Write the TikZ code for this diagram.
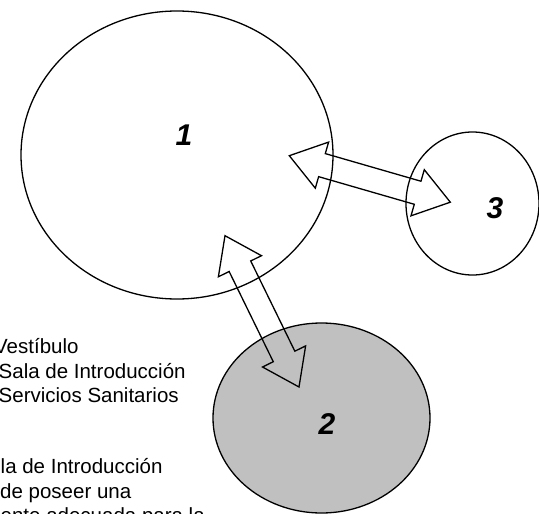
\documentclass[tikz,border=0pt]{standalone}
\usepackage{fontspec}
\setmainfont{Liberation Sans}
\usetikzlibrary{shapes.geometric,calc}
\definecolor{zonegray}{RGB}{192,192,192}
\tikzset{
  zone/.style={ellipse, draw=black, line width=1.3pt, inner sep=0pt, outer sep=0pt},
  zonelabel/.style={inner sep=0pt, font=\fontsize{30}{36}\selectfont\bfseries\itshape},
  bodytext/.style={inner sep=0pt, anchor=base west, font=\fontsize{20.5}{24.7}\selectfont},
  blockarr/.style={draw=black, line width=1.3pt, line join=miter},
}
\newcommand\blockarrow[2]{%
  \draw[blockarr] (#1)
   -- ($(#1)!34pt!(#2)!24pt!90:(#2)$)
   -- ($(#1)!34pt!(#2)!12pt!90:(#2)$)
   -- ($(#2)!34pt!(#1)!12pt!-90:(#1)$)
   -- ($(#2)!34pt!(#1)!24pt!-90:(#1)$)
   -- (#2)
   -- ($(#2)!34pt!(#1)!24pt!90:(#1)$)
   -- ($(#2)!34pt!(#1)!12pt!90:(#1)$)
   -- ($(#1)!34pt!(#2)!12pt!-90:(#2)$)
   -- ($(#1)!34pt!(#2)!24pt!-90:(#2)$)
   -- cycle;}
\begin{document}
\begin{tikzpicture}[x=1pt, y=-1pt]
  \useasboundingbox (0,0) rectangle (539,514);
  \clip (0,0) rectangle (539,514);
  % zones
  \node[zone, minimum width=312pt, minimum height=288pt] (c1) at (177,155) {};
  \node[zone, fill=zonegray, minimum width=217pt, minimum height=190pt] (c2) at (321.5,418) {};
  \node[zone, minimum width=133pt, minimum height=143pt] (c3) at (472.5,203.5) {};
  \node[zonelabel] (l1) at (184,135) {1};
  \node[zonelabel] (l2) at (327,424) {2};
  \node[zonelabel] (l3) at (495,208) {3};
  % connectors (block double arrows)
  \coordinate (a13) at (289.3,155.7);
  \coordinate (b13) at (450.3,202.2);
  \coordinate (a12) at (225,235.7);
  \coordinate (b12) at (299,387);
  \blockarrow{a13}{b13}
  \blockarrow{a12}{b12}
  % text
  \node[bodytext] (t1) at (-6,353.3) {Vestíbulo};
  \node[bodytext] (t2) at (-1.5,378.3) {Sala de Introducción};
  \node[bodytext] (t3) at (-1.5,402.8) {Servicios Sanitarios};
  \node[bodytext] (t4) at (0.5,473.3) {la de Introducción};
  \node[bodytext] (t5) at (0,498) {de poseer una};
  \node[bodytext] (t6) at (0.5,522.7) {ente adecuada para la};
\end{tikzpicture}
\end{document}
